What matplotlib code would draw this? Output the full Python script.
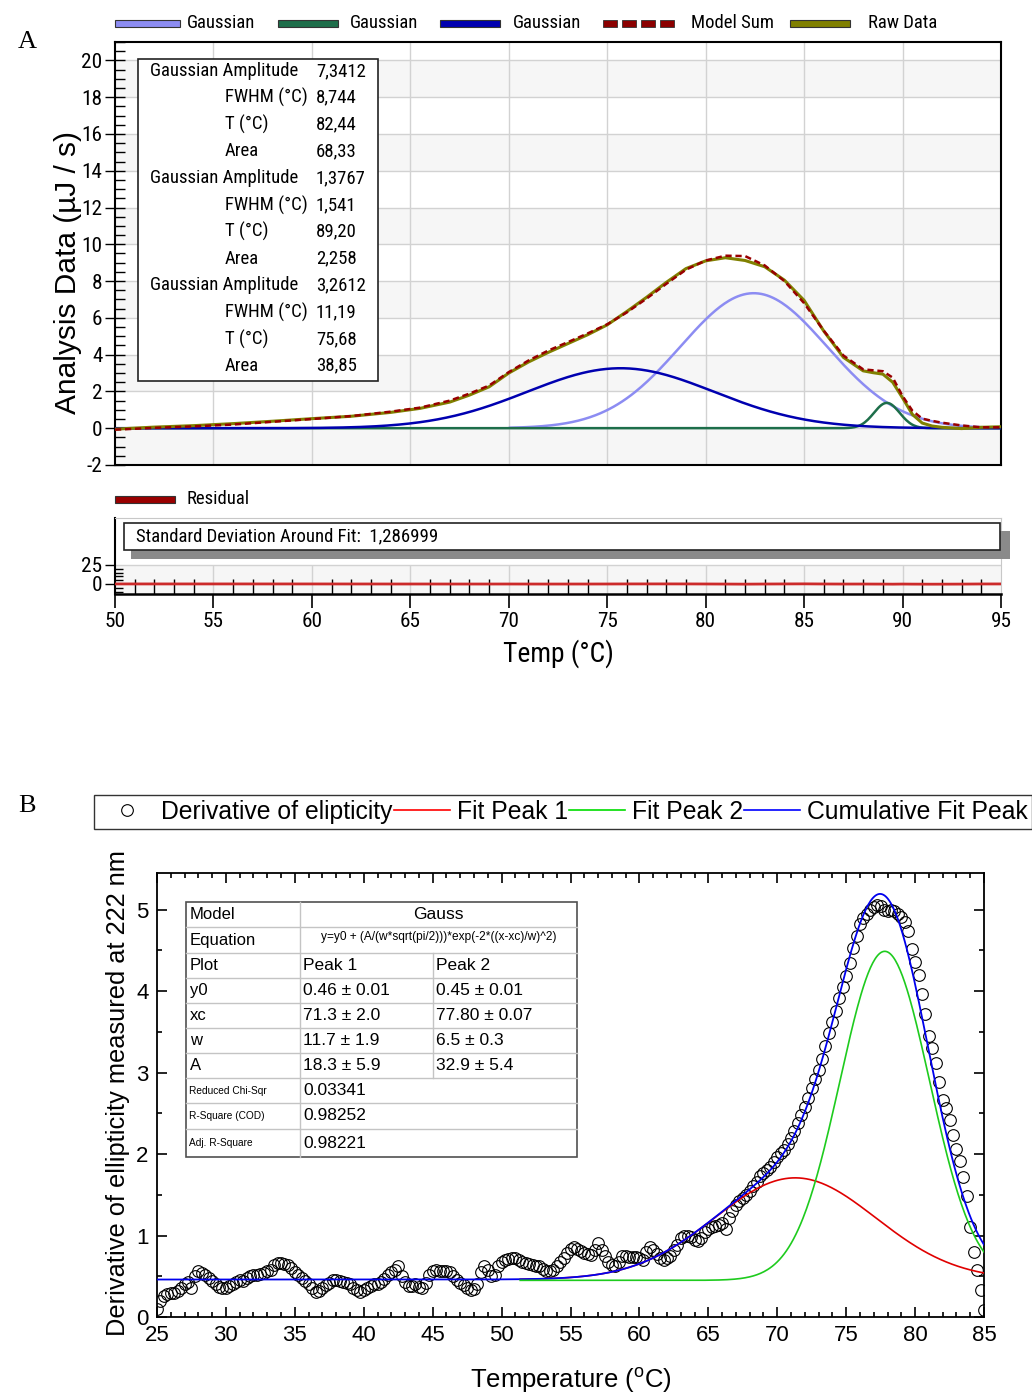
import numpy as np
import matplotlib
matplotlib.use("Agg")
import matplotlib.pyplot as plt
from matplotlib import font_manager
from matplotlib.lines import Line2D
from matplotlib.patches import Rectangle
from matplotlib.ticker import MultipleLocator, FixedLocator

W, H = 1032, 1394

SANS = "Liberation Sans"
SERIF = "Liberation Serif"
plt.rcParams["mathtext.default"] = "regular"
plt.rcParams["axes.unicode_minus"] = False

# ---------------- panel A: DSC deconvolution ----------------
gauss_amp = [7.3412, 1.3767, 3.2612]
gauss_fwhm = [8.744, 1.541, 11.19]
gauss_center = [82.44, 89.20, 75.68]
gauss_area = [68.33, 2.258, 38.85]
gauss_colors = ["#8c8cf2", "#1d6e4a", "#0000b0"]
gauss_from = [70, 50, 50]

temp_a = [50, 52, 54, 56, 58, 60, 62, 64, 65.5, 67, 68, 69, 70, 71, 72, 73,
          74, 75, 76, 77, 78, 79, 80, 81, 82, 83, 84, 85, 86, 87, 88, 88.5,
          89, 89.5, 90, 90.5, 91, 91.5, 92, 93, 94, 95]
raw_a = [-0.05, 0.06, 0.14, 0.25, 0.38, 0.52, 0.65, 0.86, 1.08, 1.42, 1.80,
         2.25, 3.00, 3.60, 4.12, 4.60, 5.08, 5.62, 6.35, 7.12, 7.93, 8.68,
         9.10, 9.27, 9.12, 8.78, 8.05, 6.95, 5.28, 3.85, 3.12, 3.02, 2.94,
         2.50, 1.65, 0.75, 0.28, 0.12, 0.05, -0.02, 0.05, 0.08]
model_a = [-0.08, 0.02, 0.10, 0.20, 0.35, 0.50, 0.66, 0.90, 1.12, 1.50, 1.88,
           2.32, 3.05, 3.68, 4.22, 4.68, 5.15, 5.65, 6.30, 7.05, 7.85, 8.62,
           9.12, 9.38, 9.36, 8.85, 8.00, 6.80, 5.30, 3.95, 3.20, 3.15, 3.10,
           2.75, 1.75, 0.95, 0.52, 0.40, 0.30, 0.15, 0.05, 0.05]
std_dev_fit = "1,286999"

# ---------------- panel B: CD derivative ----------------
temp_b = np.arange(25, 85.001, 0.25)
deriv_b = [
    0.10, 0.20, 0.26, 0.28, 0.29, 0.30, 0.32, 0.36,
    0.40, 0.43, 0.36, 0.50, 0.56, 0.54, 0.51, 0.48,
    0.44, 0.40, 0.37, 0.35, 0.36, 0.38, 0.41, 0.43,
    0.45, 0.44, 0.48, 0.50, 0.51, 0.52, 0.53, 0.54,
    0.56, 0.58, 0.64, 0.66, 0.66, 0.65, 0.64, 0.60,
    0.55, 0.51, 0.48, 0.44, 0.40, 0.35, 0.31, 0.32,
    0.35, 0.39, 0.42, 0.45, 0.46, 0.44, 0.43, 0.42,
    0.40, 0.36, 0.33, 0.31, 0.33, 0.36, 0.38, 0.40,
    0.41, 0.43, 0.47, 0.52, 0.55, 0.58, 0.63, 0.50,
    0.43, 0.38, 0.38, 0.40, 0.37, 0.35, 0.42, 0.51,
    0.56, 0.58, 0.57, 0.56, 0.56, 0.55, 0.50, 0.46,
    0.42, 0.39, 0.35, 0.33, 0.34, 0.40, 0.55, 0.62,
    0.58, 0.50, 0.52, 0.62, 0.68, 0.70, 0.71, 0.72,
    0.72, 0.70, 0.68, 0.66, 0.65, 0.64, 0.63, 0.62,
    0.59, 0.56, 0.56, 0.58, 0.62, 0.67, 0.73, 0.79,
    0.84, 0.86, 0.84, 0.81, 0.79, 0.77, 0.76, 0.82,
    0.91, 0.82, 0.75, 0.68, 0.64, 0.62, 0.68, 0.75,
    0.75, 0.74, 0.74, 0.74, 0.72, 0.70, 0.80, 0.86,
    0.82, 0.77, 0.72, 0.70, 0.72, 0.75, 0.82, 0.88,
    0.97, 1.00, 1.00, 0.98, 0.95, 0.93, 0.97, 1.04,
    1.08, 1.10, 1.12, 1.13, 1.15, 1.08, 1.22, 1.30,
    1.37, 1.42, 1.46, 1.50, 1.55, 1.61, 1.66, 1.73,
    1.77, 1.80, 1.84, 1.90, 1.96, 2.01, 2.05, 2.12,
    2.20, 2.28, 2.38, 2.48, 2.58, 2.69, 2.81, 2.92,
    3.03, 3.17, 3.33, 3.49, 3.62, 3.75, 3.92, 4.05,
    4.18, 4.35, 4.53, 4.68, 4.82, 4.90, 4.95, 4.99,
    5.03, 5.06, 5.04, 5.00, 4.98, 4.99, 4.98, 4.95,
    4.91, 4.85, 4.74, 4.52, 4.36, 4.20, 3.96, 3.72,
    3.45, 3.30, 3.12, 2.88, 2.66, 2.56, 2.42, 2.24,
    2.06, 1.92, 1.72, 1.48, 1.10, 0.80, 0.58, 0.33,
    0.08,
]
peak_names = ["Peak 1", "Peak 2"]
peak_y0 = [0.46, 0.45]
peak_xc = [71.3, 77.80]
peak_w = [11.7, 6.5]
peak_A = [18.3, 32.9]
peak_from = 51.3
table_params = [
    ("y0", "0.46 ± 0.01", "0.45 ± 0.01"),
    ("xc", "71.3 ± 2.0", "77.80 ± 0.07"),
    ("w", "11.7 ± 1.9", "6.5 ± 0.3"),
    ("A", "18.3 ± 5.9", "32.9 ± 5.4"),
]
table_stats = [
    ("Reduced Chi-Sqr", "0.03341"),
    ("R-Square (COD)", "0.98252"),
    ("Adj. R-Square", "0.98221"),
]
equation = "y=y0 + (A/(w*sqrt(pi/2)))*exp(-2*((x-xc)/w)^2)"


def pick_narrow():
    # a condensed sans for the instrument-software panel
    installed = {f.name for f in font_manager.fontManager.ttflist}
    for name, scale in [("Liberation Sans Narrow", 1.0), ("Arial Narrow", 1.0),
                        ("Roboto Condensed", 0.9)]:
        if name in installed:
            return {"family": name}, scale
    for f in font_manager.fontManager.ttflist:
        if f.fname.endswith("DejaVuSansCondensed.ttf"):
            return {"fname": f.fname}, 0.86
    return {"family": SANS}, 0.84


NARROW_KW, NARROW_SCALE = pick_narrow()


def nfp(size):
    return font_manager.FontProperties(size=size * NARROW_SCALE, **NARROW_KW)


def fmt(v, sig=4):
    dec = max(sig - 1 - int(np.floor(np.log10(abs(v)))), 0)
    return f"{v:.{dec}f}".replace(".", ",")


def axes_px(left, top, right, bottom):
    return fig.add_axes((left / W, 1 - bottom / H, (right - left) / W, (bottom - top) / H))


fig = plt.figure(figsize=(W / 100, H / 100), dpi=100)

# overlay in pixel coordinates for legends, boxes and the table
ov = fig.add_axes((0, 0, 1, 1), zorder=10)
ov.set_xlim(0, W)
ov.set_ylim(H, 0)
ov.axis("off")
ov.patch.set_alpha(0)

ov.text(18, 42, "A", fontsize=19, family=SERIF, va="center")
ov.text(18, 806, "B", fontsize=19, family=SERIF, va="center")

# ---- A main axes ----
axA = axes_px(115, 42, 1001, 465)
axA.set_xlim(50, 95)
axA.set_ylim(-2, 21)
for lo in range(-2, 20, 4):
    axA.axhspan(lo, lo + 2, color="#f6f6f6", zorder=0, lw=0)
axA.set_xticks(range(55, 95, 5))
yt = list(range(-2, 21, 2))
axA.set_yticks(yt, [str(v) for v in yt], fontproperties=nfp(17))
axA.yaxis.set_minor_locator(MultipleLocator(0.5))
axA.grid(True, color="#d2d2d2", lw=1, zorder=0.5)
axA.set_axisbelow(True)
axA.tick_params(axis="x", length=0, labelbottom=False)
axA.tick_params(axis="y", which="major", direction="inout", length=14, width=1, pad=2)
axA.tick_params(axis="y", which="minor", direction="in", length=7, width=1)
for sp in axA.spines.values():
    sp.set_linewidth(1.5)

xs_a = np.linspace(50, 95, 600)
for amp, fw, c, col, start in zip(gauss_amp, gauss_fwhm, gauss_center, gauss_colors, gauss_from):
    xx = xs_a[xs_a >= start]
    axA.plot(xx, amp * np.exp(-4 * np.log(2) * (xx - c) ** 2 / fw ** 2), color=col, lw=1.8, zorder=3)
axA.plot(temp_a, raw_a, color="#808000", lw=2.2, zorder=4)
axA.plot(temp_a, model_a, color="#990000", lw=1.8, dashes=(2.5, 1.5), zorder=5)

ov.text(68, 272, "Analysis Data (µJ / s)", rotation=90, ha="center", va="center",
        fontsize=21.5, family=SANS)

# A legend
leg_y = 23
keys = [(115, 180, 187, gauss_colors[0], "Gaussian"),
        (278, 338, 350, gauss_colors[1], "Gaussian"),
        (440, 500, 513, gauss_colors[2], "Gaussian"),
        (790, 850, 868, "#808000", "Raw Data")]
for x0, x1, xt, col, lab in keys:
    ov.add_patch(Rectangle((x0, leg_y - 3.5), x1 - x0, 7, facecolor=col, edgecolor="#333333", lw=0.8))
    ov.text(xt, leg_y, lab, fontproperties=nfp(15), va="center")
for k in range(4):
    ov.add_patch(Rectangle((603 + k * 19, leg_y - 3.5), 14, 7, facecolor="#8b0000",
                           edgecolor="#333333", lw=0.6))
ov.text(691, leg_y, "Model Sum", fontproperties=nfp(15), va="center")

# A info box
ov.add_patch(Rectangle((138, 59), 240, 322, facecolor="white", edgecolor="#222222", lw=1.2))
row_y = 71
for amp, fw, c, area in zip(gauss_amp, gauss_fwhm, gauss_center, gauss_area):
    rows = [("Gaussian Amplitude", f"{amp:.4f}".replace(".", ",")),
            ("FWHM (°C)", fmt(fw)), ("T (°C)", fmt(c)), ("Area", fmt(area))]
    for i, (lab, val) in enumerate(rows):
        ov.text(150 if i == 0 else 225, row_y, lab, fontproperties=nfp(15), va="center")
        ov.text(316, row_y, val, fontproperties=nfp(15), va="center")
        row_y += 26.8

# ---- residual axes ----
residual = np.array(raw_a) - np.array(model_a)
axR = axes_px(115, 518, 1001, 594)
axR.set_xlim(50, 95)
axR.set_ylim(-13.2, 86.8)
axR.axhspan(-13.2, 25, color="#f6f6f6", zorder=0, lw=0)
axR.vlines(range(55, 95, 5), -13.2, 25, color="#d2d2d2", lw=1, zorder=0.5)
axR.axhline(25, color="#d2d2d2", lw=1, zorder=0.5)
axR.plot(temp_a, residual, color="#cc2a2a", lw=2, zorder=3)
xt = list(range(50, 96, 5))
axR.set_xticks(xt, [str(v) for v in xt], fontproperties=nfp(17))
axR.xaxis.set_minor_locator(MultipleLocator(1))
axR.set_yticks([0, 25], ["0", "25"], fontproperties=nfp(17))
axR.yaxis.set_minor_locator(FixedLocator([-10, -5, 5, 10, 15, 20]))
axR.tick_params(axis="x", which="major", direction="out", length=10, width=1.2, pad=3)
axR.tick_params(axis="x", which="minor", direction="in", length=11, width=1)
axR.tick_params(axis="y", which="major", direction="out", length=7, width=1, pad=2)
axR.tick_params(axis="y", which="minor", direction="in", length=6, width=1)
axR.spines["top"].set_color("#c8c8c8")
axR.spines["right"].set_color("#c8c8c8")
axR.spines["left"].set_linewidth(1.5)
axR.spines["bottom"].set_linewidth(1.8)
axR.set_xlabel("Temp (°C)", fontproperties=nfp(22), labelpad=6)

ov.add_patch(Rectangle((115, 496), 60, 7, facecolor="#990000", edgecolor="#333333", lw=0.8))
ov.text(187, 499, "Residual", fontproperties=nfp(15), va="center")
ov.add_patch(Rectangle((131, 531), 879, 28, facecolor="#8a8a8a", lw=0))
ov.add_patch(Rectangle((124, 523), 876, 27, facecolor="white", edgecolor="#222222", lw=1.2))
ov.text(136, 536, "Standard Deviation Around Fit:  " + std_dev_fit, fontproperties=nfp(15),
        va="center")

# ---- B axes ----
axB = axes_px(157, 873, 984, 1317)
axB.set_xlim(25, 85)
axB.set_ylim(0, 5.45)
axB.plot(temp_b, deriv_b, "o", mfc="none", mec="black", ms=8.4, mew=0.8, ls="none", zorder=2)


def gauss_b(x, y0, xc, w, a):
    return y0 + a / (w * np.sqrt(np.pi / 2)) * np.exp(-2 * ((x - xc) / w) ** 2)


xs_b = np.linspace(25, 85, 700)
xp = xs_b[xs_b >= peak_from]
fit1 = gauss_b(xp, peak_y0[0], peak_xc[0], peak_w[0], peak_A[0])
fit2 = gauss_b(xp, peak_y0[1], peak_xc[1], peak_w[1], peak_A[1])
cum = gauss_b(xs_b, peak_y0[0], peak_xc[0], peak_w[0], peak_A[0]) + \
    gauss_b(xs_b, 0, peak_xc[1], peak_w[1], peak_A[1])
axB.plot(xp, fit1, color="#e00000", lw=1.2, zorder=3)
axB.plot(xs_b, cum, color="#0000ee", lw=1.3, zorder=4)
axB.plot(xp, fit2, color="#1ecb1e", lw=1.2, zorder=5)

axB.set_xticks(range(25, 86, 5))
axB.xaxis.set_minor_locator(MultipleLocator(1))
axB.set_yticks(range(0, 6))
axB.yaxis.set_minor_locator(MultipleLocator(0.5))
axB.tick_params(which="both", direction="in", top=True, right=True, width=1.2)
axB.tick_params(which="major", length=7, labelsize=16, pad=6)
axB.tick_params(which="minor", length=3.5)
for lab in axB.get_xticklabels() + axB.get_yticklabels():
    lab.set_family(SANS)
for sp in axB.spines.values():
    sp.set_linewidth(1.3)
axB.set_xlabel("Temperature ($^{o}$C)", fontsize=18.5, family=SANS, labelpad=14)
ov.text(118, 1093, "Derivative of ellipticity measured at 222 nm", rotation=90,
        ha="center", va="center", fontsize=18.3, family=SANS)

handles = [Line2D([], [], ls="none", marker="o", mfc="none", mec="black", ms=8.4, mew=0.8),
           Line2D([], [], color="#ff0000", lw=1.2),
           Line2D([], [], color="#00dd00", lw=1.2),
           Line2D([], [], color="#0000ff", lw=1.2)]
labels = ["Derivative of elipticity", "Fit Peak 1", "Fit Peak 2", "Cumulative Fit Peak"]
leg = fig.legend(handles, labels, loc="upper left", bbox_to_anchor=(94 / W, 1 - 795 / H),
                 borderaxespad=0, ncol=4, frameon=True, fancybox=False, edgecolor="black",
                 borderpad=0.2, handlelength=2.25, handletextpad=0.28, columnspacing=0.05,
                 prop={"family": SANS, "size": 17.8})
leg.get_frame().set_linewidth(1)

# fit table
t_left, t_c1, t_c2, t_right = 186, 300, 433, 577
row_edges = [902, 927, 953, 978, 1003, 1028, 1053, 1078, 1103, 1129, 1157]
grid_kw = dict(color="#c4c4c4", lw=1)
ov.add_patch(Rectangle((t_left, row_edges[0]), t_right - t_left, row_edges[-1] - row_edges[0],
                       facecolor="white", edgecolor="#505050", lw=1.2, zorder=1))
for y in row_edges[1:-1]:
    ov.plot([t_left, t_right], [y, y], zorder=2, **grid_kw)
ov.plot([t_c1, t_c1], [row_edges[0], row_edges[-1]], zorder=2, **grid_kw)
ov.plot([t_c2, t_c2], [row_edges[2], row_edges[7]], zorder=2, **grid_kw)


def row_mid(i):
    return (row_edges[i] + row_edges[i + 1]) / 2


cell_kw = dict(family=SANS, va="center", zorder=3)
ov.text(t_left + 4, row_mid(0), "Model", fontsize=12, **cell_kw)
ov.text((t_c1 + t_right) / 2, row_mid(0), "Gauss", fontsize=12.5, ha="center", family=SANS,
        va="center", zorder=3)
ov.text(t_left + 4, row_mid(1), "Equation", fontsize=12, **cell_kw)
ov.text((t_c1 + t_right) / 2, row_mid(1) - 3, equation, fontsize=8.6, ha="center",
        family=SANS, va="center", zorder=3)
ov.text(t_left + 4, row_mid(2), "Plot", fontsize=12, **cell_kw)
ov.text(t_c1 + 3, row_mid(2), peak_names[0], fontsize=12.5, **cell_kw)
ov.text(t_c2 + 3, row_mid(2), peak_names[1], fontsize=12.5, **cell_kw)
for i, (lab, v1, v2) in enumerate(table_params):
    ov.text(t_left + 4, row_mid(3 + i), lab, fontsize=12, **cell_kw)
    ov.text(t_c1 + 3, row_mid(3 + i), v1, fontsize=12.5, **cell_kw)
    ov.text(t_c2 + 3, row_mid(3 + i), v2, fontsize=12.5, **cell_kw)
for i, (lab, val) in enumerate(table_stats):
    ov.text(t_left + 3, row_mid(7 + i), lab, fontsize=7.3, **cell_kw)
    ov.text(t_c1 + 3, row_mid(7 + i), val, fontsize=12.5, **cell_kw)

fig.savefig("out.png", dpi=100)
